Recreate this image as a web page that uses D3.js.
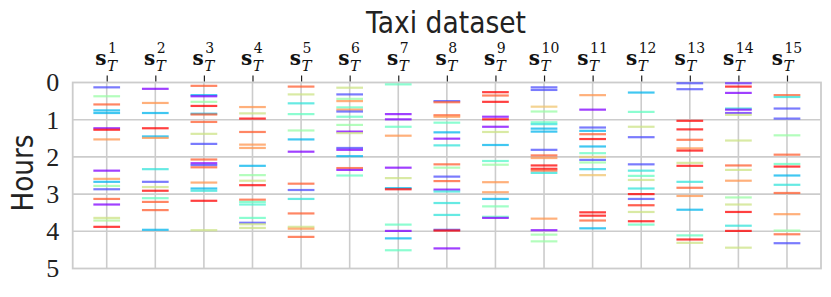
<!DOCTYPE html>
<html>
<head>
<meta charset="utf-8">
<script src="https://cdnjs.cloudflare.com/ajax/libs/d3/7.8.5/d3.min.js"></script>
<style>
  body { margin: 0; background: #fff; }
</style>
</head>
<body>
<script>
// column ids (s_T^1 .. s_T^15) and hour ticks
var columns = d3.range(1, 16);
var hourTicks = [0, 1, 2, 3, 4, 5];

// colour codes on the rainbow map (0 = purple ... 1 = red)
var P = 0.0, V = 0.05, B = 0.1, L = 0.25, C = 0.35, A = 0.45,
    G = 0.55, K = 0.65, O = 0.8, Q = 0.88, R = 1.0;

// one list of hours per column, tones in the same order
var hours = [
  [0.13, 0.37, 0.59, 0.75, 0.82, 1.23, 1.27, 1.53, 2.37, 2.59, 2.67, 2.78, 2.87, 3.13, 3.28, 3.64, 3.71, 3.88],
  [0.17, 0.55, 0.82, 1.23, 1.45, 1.49, 2.33, 2.67, 2.81, 2.91, 3.11, 3.21, 3.43, 3.96],
  [0.09, 0.34, 0.37, 0.52, 0.63, 0.84, 0.86, 1.06, 1.38, 1.65, 2.07, 2.17, 2.22, 2.28, 2.69, 2.85, 2.91, 3.18, 3.97],
  [0.66, 0.83, 0.97, 1.33, 1.67, 1.76, 2.24, 2.49, 2.64, 2.76, 3.15, 3.21, 3.28, 3.64, 3.77, 3.81, 3.91],
  [0.11, 0.32, 0.56, 0.85, 1.29, 1.53, 1.86, 2.72, 2.89, 3.13, 3.52, 3.88, 3.93, 4.15],
  [0.14, 0.32, 0.44, 0.50, 0.67, 0.73, 0.78, 0.92, 1.14, 1.32, 1.36, 1.76, 1.81, 1.98, 2.30, 2.35, 2.50],
  [0.05, 0.85, 0.99, 1.19, 1.43, 2.29, 2.57, 2.84, 2.87, 3.82, 3.99, 4.19, 4.51],
  [0.50, 0.53, 0.88, 0.92, 1.08, 1.34, 1.51, 1.69, 2.20, 2.29, 2.53, 2.65, 2.88, 2.93, 3.24, 3.56, 3.96, 3.98, 4.46],
  [0.26, 0.35, 0.52, 0.92, 0.99, 1.19, 1.33, 1.68, 2.11, 2.21, 2.68, 2.95, 3.13, 3.33, 3.61, 3.64],
  [0.13, 0.20, 0.65, 0.78, 1.07, 1.12, 1.24, 1.32, 1.81, 1.96, 2.03, 2.23, 2.32, 2.37, 2.43, 3.66, 3.97, 4.09, 4.27],
  [0.34, 0.73, 1.21, 1.30, 1.39, 1.52, 1.72, 1.90, 2.00, 2.08, 2.15, 2.33, 2.49, 3.49, 3.58, 3.71, 3.92],
  [0.27, 0.79, 1.19, 1.47, 2.20, 2.37, 2.51, 2.62, 2.85, 3.00, 3.13, 3.30, 3.48, 3.73, 3.82],
  [0.02, 0.18, 1.03, 1.26, 1.54, 1.77, 1.83, 2.16, 2.24, 2.67, 2.83, 3.05, 3.42, 4.11, 4.22, 4.31],
  [0.02, 0.11, 0.28, 0.70, 0.73, 0.82, 0.87, 1.56, 2.23, 2.35, 2.64, 3.09, 3.28, 3.48, 3.85, 3.99, 4.44],
  [0.34, 0.39, 0.70, 0.97, 1.42, 1.94, 2.19, 2.26, 2.50, 2.75, 2.97, 3.54, 3.98, 4.08, 4.32]
];
var tones = [
  [B, G, Q, L, L, P, R, O, P, O, L, G, B, Q, P, K, 0.6, R],
  [P, O, L, R, L, O, C, B, K, R, A, Q, Q, L],
  [Q, L, P, G, R, L, Q, Q, K, B, Q, P, B, Q, O, L, C, R, K],
  [O, K, R, Q, O, O, L, G, K, R, Q, A, 0.4, A, B, K, K],
  [Q, K, C, A, G, L, P, Q, B, C, Q, K, O, Q],
  [K, B, G, O, A, O, B, A, G, P, K, B, P, L, Q, P, A],
  [A, P, P, A, O, P, K, L, R, A, P, L, A],
  [B, Q, Q, O, A, L, P, C, Q, G, B, Q, P, C, C, C, B, R, P],
  [R, Q, R, P, R, P, K, L, 0.42, G, O, O, L, 0.5, A, P],
  [B, B, 0.72, G, A, C, L, L, B, Q, O, R, R, Q, C, O, P, G, G],
  [O, P, B, L, Q, R, L, A, 0.7, B, G, 0.3, 0.72, R, R, Q, L],
  [L, A, K, B, B, C, A, K, C, R, B, 0.95, K, R, A],
  [B, B, R, R, Q, O, R, K, R, C, Q, O, L, A, R, K],
  [V, R, P, C, P, V, K, K, Q, K, O, G, K, R, C, R, K],
  [Q, C, B, B, G, Q, A, R, L, C, Q, O, G, Q, B]
];

var w = 831, h = 297,
    pd = { left: 72.7, right: 821, top: 82.5, bottom: 268.5 },
    half = 0.275;

// matplotlib "rainbow"
function rainbow(t) {
  var r = Math.min(1, Math.abs(2 * t - 0.5)),
      g = Math.sin(Math.PI * t),
      b = Math.cos(Math.PI * t / 2);
  return d3.rgb(r * 255, g * 255, b * 255).toString();
}

var x = d3.scaleLinear().domain([0.3, 15.7]).range([pd.left, pd.right]);
var y = d3.scaleLinear().domain([0, 5]).range([pd.top, pd.bottom]);

var svg = d3.select("body")
            .append("svg")
            .attr("width", w)
            .attr("height", h);

// grid
svg.append("g")
   .selectAll("line")
   .data(columns)
   .enter()
   .append("line")
   .attr("x1", function(d) { return x(d); })
   .attr("x2", function(d) { return x(d); })
   .attr("y1", y(0))
   .attr("y2", y(5))
   .attr("stroke", "#cccccc")
   .attr("stroke-width", 1.6);

svg.append("g")
   .selectAll("line")
   .data(hourTicks.slice(1, 5))
   .enter()
   .append("line")
   .attr("x1", pd.left)
   .attr("x2", pd.right)
   .attr("y1", function(d) { return y(d); })
   .attr("y2", function(d) { return y(d); })
   .attr("stroke", "#cccccc")
   .attr("stroke-width", 1.6);

svg.append("rect")
   .attr("x", pd.left)
   .attr("y", pd.top)
   .attr("width", pd.right - pd.left)
   .attr("height", pd.bottom - pd.top)
   .attr("fill", "none")
   .attr("stroke", "#cccccc")
   .attr("stroke-width", 1.8);

// dashes
var marks = [];
hours.forEach(function(list, i) {
  list.forEach(function(v, j) {
    marks.push({ col: columns[i], h: v, t: tones[i][j] });
  });
});

svg.append("g")
   .selectAll("line")
   .data(marks)
   .enter()
   .append("line")
   .attr("x1", function(d) { return x(d.col - half); })
   .attr("x2", function(d) { return x(d.col + half); })
   .attr("y1", function(d) { return y(d.h); })
   .attr("y2", function(d) { return y(d.h); })
   .attr("stroke", function(d) { return rainbow(d.t); })
   .attr("stroke-width", 2.2)
   .attr("stroke-opacity", 0.75);

// top ticks
var topAxis = svg.append("g")
                 .attr("transform", "translate(0," + (pd.top - 1) + ")")
                 .call(d3.axisTop(x).tickValues(columns).tickSize(6).tickFormat(""));
topAxis.select(".domain").remove();
topAxis.selectAll("line").attr("stroke", "#222").attr("stroke-width", 1.2);

// column labels s_T^i : one text, sub placed back under the sup
columns.forEach(function(c) {
  var t = svg.append("text")
             .attr("x", 0)
             .attr("y", 65)
             .attr("font-family", "DejaVu Serif")
             .attr("fill", "#111");
  t.append("tspan")
   .attr("font-weight", "bold")
   .attr("font-size", 20)
   .text("s");
  var sup = t.append("tspan")
             .attr("dx", 1.5)
             .attr("dy", -12.5)
             .attr("font-size", 14)
             .text(c);
  var supLen = sup.node().getComputedTextLength();
  t.append("tspan")
   .attr("dx", -supLen - 1)
   .attr("dy", 18)
   .attr("font-size", 15)
   .attr("font-style", "italic")
   .text("T");
  var bb = t.node().getBBox();
  t.attr("transform", "translate(" + (x(c) - bb.x - bb.width / 2) + ",0)");
});

// y axis labels
var leftAxis = svg.append("g")
                  .attr("transform", "translate(" + pd.left + ",0)")
                  .call(d3.axisLeft(y).tickValues(hourTicks).tickSize(0).tickPadding(13.5)
                          .tickFormat(d3.format("d")));
leftAxis.attr("font-family", "Liberation Serif").attr("font-size", 26);
leftAxis.select(".domain").remove();
leftAxis.selectAll("text").attr("fill", "#222");

svg.append("text")
   .attr("transform", "translate(33,173) rotate(-90)")
   .attr("text-anchor", "middle")
   .attr("font-family", "DejaVu Sans")
   .attr("font-size", 31)
   .attr("textLength", 77)
   .attr("lengthAdjust", "spacingAndGlyphs")
   .attr("fill", "#222")
   .text("Hours");

svg.append("text")
   .attr("x", 446)
   .attr("y", 32.7)
   .attr("text-anchor", "middle")
   .attr("font-family", "DejaVu Sans")
   .attr("font-size", 31)
   .attr("textLength", 160)
   .attr("lengthAdjust", "spacingAndGlyphs")
   .attr("fill", "#222")
   .text("Taxi dataset");
</script>
</body>
</html>
